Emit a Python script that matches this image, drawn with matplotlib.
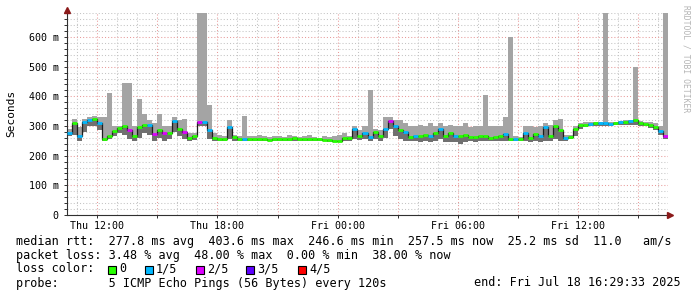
import numpy as np
import pandas as pd
import matplotlib

matplotlib.use("Agg")
import matplotlib.pyplot as plt
import matplotlib.dates as mdates
import matplotlib.ticker as mticker
from matplotlib.collections import LineCollection
from matplotlib.patches import Rectangle

# 15 minute buckets, Thu 10:29:33 -> Fri 16:29:33
times = pd.date_range("2025-07-17 10:29:33", periods=120, freq="15min")

median_ms = [
    275, 310, 265, 315, 320, 325, 310, 255, 268, 282,
    292, 300, 285, 265, 295, 303, 305, 272, 285, 278,
    275, 318, 290, 280, 260, 265, 312, 315, 285, 260,
    257, 256, 295, 262, 256, 257, 256, 255, 257, 256,
    254, 256, 257, 255, 256, 258, 256, 255, 257, 256,
    255, 254, 252, 250, 250, 258, 258, 290, 265, 275,
    262, 280, 265, 290, 318, 300, 285, 280, 262, 268,
    265, 270, 268, 275, 290, 265, 275, 268, 265, 270,
    262, 263, 266, 265, 260, 262, 266, 272, 257, 256,
    257, 275, 260, 272, 268, 295, 265, 300, 285, 258,
    262, 290, 302, 304, 307, 309, 310, 309, 308, 310,
    312, 313, 316, 320, 310, 307, 303, 297, 283, 266,
]

smoke_hi = [
    290, 325, 295, 325, 330, 335, 330, 330, 410, 300,
    300, 445, 445, 300, 390, 340, 320, 310, 340, 300,
    300, 330, 320, 325, 275, 275, 680, 680, 370, 275,
    270, 265, 320, 270, 268, 335, 268, 265, 270, 265,
    262, 268, 265, 263, 270, 265, 262, 268, 270, 262,
    260, 265, 263, 265, 270, 275, 268, 300, 285, 300,
    420, 290, 285, 330, 330, 320, 320, 310, 300, 300,
    305, 300, 310, 300, 310, 300, 305, 300, 300, 310,
    295, 300, 300, 405, 300, 300, 300, 330, 600, 265,
    262, 300, 300, 295, 300, 310, 305, 320, 325, 270,
    270, 300, 310, 312, 312, 315, 315, 680, 315, 315,
    318, 320, 320, 500, 318, 315, 315, 310, 300, 680,
]

smoke_lo = [
    265, 270, 250, 280, 300, 300, 285, 248, 255, 265,
    275, 270, 255, 250, 260, 275, 270, 250, 260, 250,
    255, 280, 265, 255, 250, 252, 300, 300, 255, 250,
    250, 250, 255, 250, 250, 250, 250, 250, 250, 250,
    250, 250, 250, 250, 250, 250, 250, 250, 250, 250,
    250, 250, 247, 245, 245, 250, 250, 255, 252, 255,
    250, 255, 250, 260, 290, 265, 255, 250, 250, 248,
    245, 248, 245, 250, 255, 245, 245, 245, 240, 245,
    250, 245, 250, 250, 250, 250, 250, 250, 250, 250,
    250, 250, 245, 248, 245, 250, 250, 255, 250, 250,
    255, 265, 290, 295, 300, 300, 300, 300, 300, 302,
    305, 305, 305, 305, 300, 300, 292, 285, 270, 255,
]

# lost pings out of 5 for each bucket
loss = [
    1, 0, 1, 1, 1, 0, 1, 0, 0, 0,
    0, 0, 2, 0, 0, 0, 1, 2, 0, 2,
    0, 1, 0, 2, 0, 0, 2, 1, 1, 0,
    0, 0, 1, 0, 0, 1, 0, 0, 0, 0,
    0, 0, 0, 0, 0, 0, 0, 0, 0, 0,
    0, 0, 0, 0, 0, 0, 0, 1, 0, 1,
    1, 0, 0, 1, 2, 1, 0, 1, 0, 1,
    0, 0, 1, 0, 1, 0, 0, 1, 0, 0,
    0, 0, 0, 0, 0, 0, 0, 1, 0, 1,
    0, 1, 0, 0, 1, 1, 0, 0, 0, 1,
    0, 0, 0, 0, 1, 0, 1, 1, 1, 0,
    1, 0, 1, 0, 0, 0, 0, 0, 1, 2,
]

loss_colors = ["#26ff00", "#00b8ff", "#dd00ff", "#5e00ff", "#ff0000"]
loss_labels = ["0", "1/5", "2/5", "3/5", "4/5"]

W, H = 697, 297
fig = plt.figure(figsize=(W / 100, H / 100), dpi=100)
plt.rcParams["font.family"] = ["DejaVu Sans Mono"]

ax = fig.add_axes([67 / W, 1 - 215 / H, 601 / W, 202 / H])

edges = mdates.date2num(times.append(pd.DatetimeIndex([times[-1] + pd.Timedelta("15min")])))
med = np.array(median_ms, dtype=float)
lo = np.append(smoke_lo, smoke_lo[-1])
hi = np.append(smoke_hi, smoke_hi[-1])
mm = np.append(med, med[-1])

# smoke: light above the median, darker below it
ax.fill_between(edges, lo, hi, step="post", color="#a4a4a4", lw=0, zorder=2)
ax.fill_between(edges, lo, mm, step="post", color="#707070", lw=0, zorder=2)
# dark connectors
ax.step(edges, mm, where="post", color="#1e1e1e", lw=0.9, zorder=3)
# median colored by loss
segs = [[(edges[i], med[i]), (edges[i + 1], med[i])] for i in range(len(med))]
lc = LineCollection(segs, colors=[loss_colors[k] for k in loss], linewidths=2.0, zorder=4)
ax.add_collection(lc)

ax.set_xlim(edges[0], edges[-1])
ax.set_ylim(0, 681)

# grid
ax.xaxis.set_major_locator(mdates.HourLocator(byhour=range(0, 24, 3)))
ax.xaxis.set_minor_locator(mdates.HourLocator())
ax.xaxis.set_major_formatter(mticker.FuncFormatter(
    lambda v, p: mdates.num2date(v).strftime("%a %H:%M") if mdates.num2date(v).hour % 6 == 0 else ""))
ax.yaxis.set_major_locator(mticker.MultipleLocator(100))
ax.yaxis.set_minor_locator(mticker.MultipleLocator(20))
ax.yaxis.set_major_formatter(mticker.FuncFormatter(lambda v, p: "0" if v == 0 else f"{int(v)} m"))
ax.grid(which="minor", color="#c4c4c4", lw=0.75, linestyle=(0, (1, 2)))
ax.grid(which="major", color="#e89a9a", lw=0.75, linestyle=(0, (1, 2)))
ax.set_axisbelow(True)

for s in ["top", "right"]:
    ax.spines[s].set_visible(False)
for s in ["left", "bottom"]:
    ax.spines[s].set_color("#303030")
    ax.spines[s].set_linewidth(0.8)
ax.tick_params(which="both", length=2, width=0.7, color="#303030", labelsize=7.2, pad=2)
ax.tick_params(axis="x", which="minor", length=0)
ax.tick_params(axis="y", pad=4)

# axis arrows
ax.plot([0], [1.015], marker="^", ms=4, color="#8b1a1a", transform=ax.transAxes, clip_on=False, zorder=6)
ax.plot([1.004], [0], marker=">", ms=4, color="#8b1a1a", transform=ax.transAxes, clip_on=False, zorder=6)

fig.text(11 / W, 1 - 113 / H, "Seconds", rotation=90, ha="center", va="center", fontsize=8)
fig.text(686 / W, 1 - 5 / H, "RRDTOOL / TOBI OETIKER", rotation=270, ha="center", va="top",
         fontsize=5.8, color="#b4b4b4")

fs = 8.5
def line(y, s, x=16, ha="left"):
    fig.text(x / W, 1 - y / H, s, ha=ha, va="center", fontsize=fs)

line(241, "median rtt:  277.8 ms avg  403.6 ms max  246.6 ms min  257.5 ms now  25.2 ms sd  11.0   am/s")
line(255, "packet loss: 3.48 % avg  48.00 % max  0.00 % min  38.00 % now")
line(269, "loss color:")
box_x = [108, 145, 196, 246, 298]
for bx, col, lab in zip(box_x, loss_colors, loss_labels):
    fig.patches.append(Rectangle((bx / W, 1 - 273.5 / H), 8 / W, 8 / H, transform=fig.transFigure,
                                 facecolor=col, edgecolor="black", lw=0.8))
    line(269, lab, x=bx + 11)
line(283, "probe:       5 ICMP Echo Pings (56 Bytes) every 120s")
line(283, "end: Fri Jul 18 16:29:33 2025", x=681, ha="right")

fig.savefig("out.png", dpi=100)
